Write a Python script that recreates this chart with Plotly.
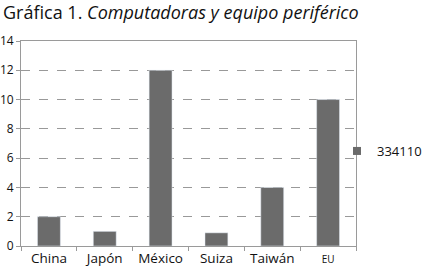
import plotly.graph_objects as go

categories = ["China", "Japón", "México", "Suiza", "Taiwán", "<span style='font-size:10px'>EU</span>"]
values = [2, 1, 12, 0.9, 4, 10]
series_name = "334110"
y_ticks = [0, 2, 4, 6, 8, 10, 12, 14]

FONT = "Open Sans"
grey = "#6b6b6b"
axis_col = "#9a9a9a"

W, H = 426, 268

fig = go.Figure()
fig.add_trace(go.Bar(x=categories, y=values, name=series_name, marker_color=grey,
                     showlegend=False, legendgroup="s"))
# legend entry with a small square symbol, like the reference
fig.add_trace(go.Scatter(x=[None], y=[None], mode="markers", name=series_name,
                         legendgroup="s", showlegend=True,
                         marker=dict(symbol="square", size=8, color=grey)))

fig.update_layout(
    width=W, height=H,
    margin=dict(l=21, r=70, t=41, b=22, autoexpand=False),
    paper_bgcolor="white", plot_bgcolor="white",
    font=dict(family=FONT, size=13, color="#111"),
    bargap=0.59,
    title=dict(text="Gráfica 1. <i>Computadoras y equipo periférico</i>",
               x=3 / W, xanchor="left", y=1 - 13 / H, yanchor="middle",
               font=dict(family=FONT, size=18, color="#111")),
    showlegend=True,
    legend=dict(xref="container", x=337 / W, xanchor="left",
                yref="container", y=1 - 151 / H, yanchor="middle",
                font=dict(family=FONT, size=13), bgcolor="rgba(0,0,0,0)",
                itemwidth=30),
    xaxis=dict(showline=True, linecolor=axis_col, linewidth=1, mirror=True,
               ticks="outside", tickson="boundaries", ticklen=4, tickcolor=axis_col,
               showgrid=False, tickfont=dict(size=13.5), tickangle=0, automargin=False),
    yaxis=dict(range=[0, 14], tickvals=y_ticks, showline=True, linecolor=axis_col,
               linewidth=1, mirror=True, ticks="outside", ticklen=4, tickcolor=axis_col,
               showgrid=True, gridcolor="#999", griddash="dash", gridwidth=1,
               zeroline=False, tickfont=dict(size=12), automargin=False),
)

fig.write_html("out.html", config={"displayModeBar": False},
               post_script="document.body.style.margin='0';document.body.style.overflow='hidden';")
